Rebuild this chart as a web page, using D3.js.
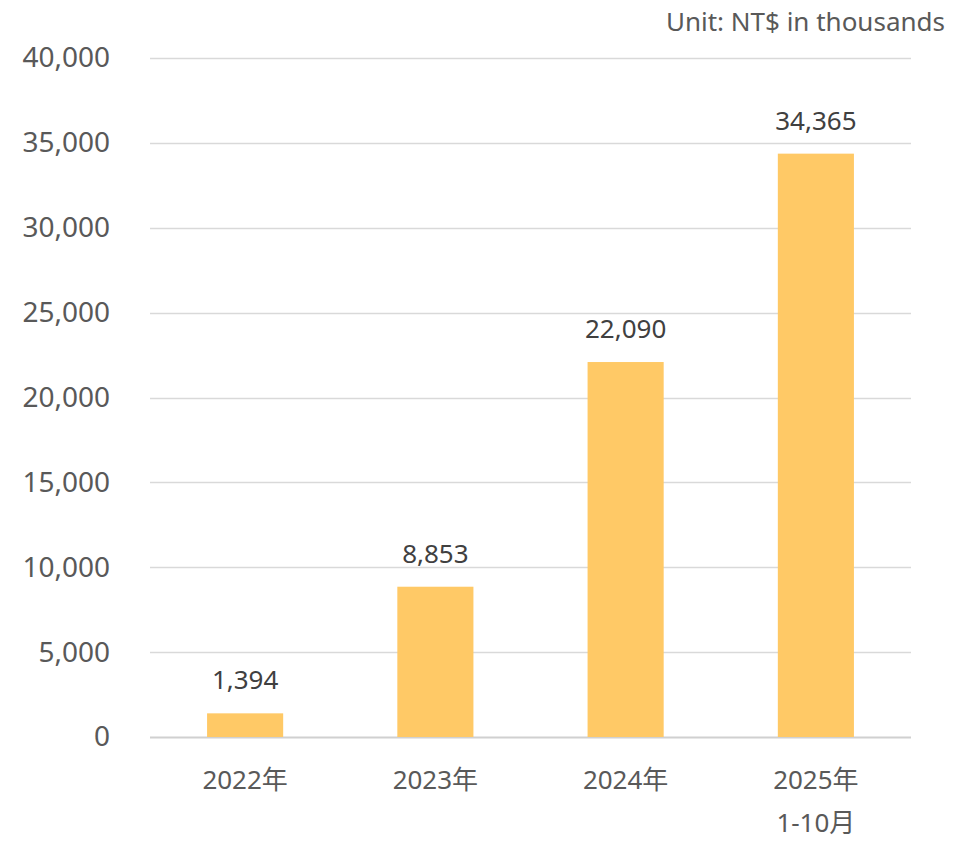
<!DOCTYPE html>
<html>
<head>
<meta charset="utf-8">
<script src="https://cdn.jsdelivr.net/npm/d3@7"></script>
<style>
  body { margin: 0; background: #fff; }
  text { font-family: "Noto Sans", "Noto Sans CJK TC", sans-serif; }
</style>
</head>
<body>
<div id="chart"></div>
<script>
// chart data
var categories = [["2022年"], ["2023年"], ["2024年"], ["2025年", "1-10月"]];
var values = [1394, 8853, 22090, 34365];
var yTicks = [0, 5000, 10000, 15000, 20000, 25000, 30000, 35000, 40000];
var unitLabel = "Unit: NT$ in thousands";

var W = 961, H = 842;
var margin = {top: 58, right: 50, bottom: 105, left: 150};
var width = W - margin.left - margin.right,
    height = H - margin.top - margin.bottom;

var svg = d3.select("#chart").append("svg")
    .attr("width", W)
    .attr("height", H);

var g = svg.append("g")
    .attr("transform", "translate(" + margin.left + "," + margin.top + ")");

var x = d3.scaleBand()
    .domain(categories.map(function(d) { return d.join(" "); }))
    .range([0, width])
    .paddingInner(0.6)
    .paddingOuter(0.3);

var y = d3.scaleLinear()
    .domain([0, 40000])
    .range([height, 0]);

var fmt = d3.format(",");

// gridlines
g.append("g")
    .selectAll("line")
    .data(yTicks)
    .enter().append("line")
    .attr("x1", 0)
    .attr("x2", width)
    .attr("y1", function(d) { return Math.round(y(d)) + 0.5; })
    .attr("y2", function(d) { return Math.round(y(d)) + 0.5; })
    .attr("stroke", function(d) { return d === 0 ? "#d0d0d0" : "#d9d9d9"; })
    .attr("stroke-width", function(d) { return d === 0 ? 2 : 1.5; });

// y axis labels
var yAxis = d3.axisLeft(y).tickValues(yTicks).tickFormat(fmt).tickSize(0).tickPadding(0);
var ya = g.append("g")
    .attr("transform", "translate(-40,0)")
    .call(yAxis);
ya.select(".domain").remove();
ya.selectAll("text")
    .attr("fill", "#595959")
    .style("font-size", "28px")
    .attr("dy", "0.32em");

// bars
g.selectAll("rect.bar")
    .data(values)
    .enter().append("rect")
    .attr("class", "bar")
    .attr("x", function(d, i) { return x(categories[i].join(" ")); })
    .attr("width", x.bandwidth())
    .attr("y", function(d) { return y(d); })
    .attr("height", function(d) { return height - y(d); })
    .attr("fill", "#ffc966");

// value labels
g.selectAll("text.val")
    .data(values)
    .enter().append("text")
    .attr("class", "val")
    .attr("x", function(d, i) { return x(categories[i].join(" ")) + x.bandwidth() / 2; })
    .attr("y", function(d) { return y(d) - 24; })
    .attr("text-anchor", "middle")
    .attr("fill", "#404040")
    .style("font-size", "26px")
    .text(function(d) { return fmt(d); });

// x labels
var xl = g.selectAll("text.cat")
    .data(categories)
    .enter().append("text")
    .attr("class", "cat")
    .attr("x", function(d) { return x(d.join(" ")) + x.bandwidth() / 2; })
    .attr("y", height + 52)
    .attr("text-anchor", "middle")
    .attr("fill", "#595959")
    .style("font-size", "26px");
xl.selectAll("tspan")
    .data(function(d) { return d; })
    .enter().append("tspan")
    .attr("x", function() { return d3.select(this.parentNode).attr("x"); })
    .attr("dy", function(d, i) { return i === 0 ? 0 : 43; })
    .text(function(d) { return d; });

// unit label
svg.append("text")
    .attr("x", 945)
    .attr("y", 31)
    .attr("text-anchor", "end")
    .attr("fill", "#595959")
    .style("font-size", "26px")
    .text(unitLabel);
</script>
</body>
</html>
